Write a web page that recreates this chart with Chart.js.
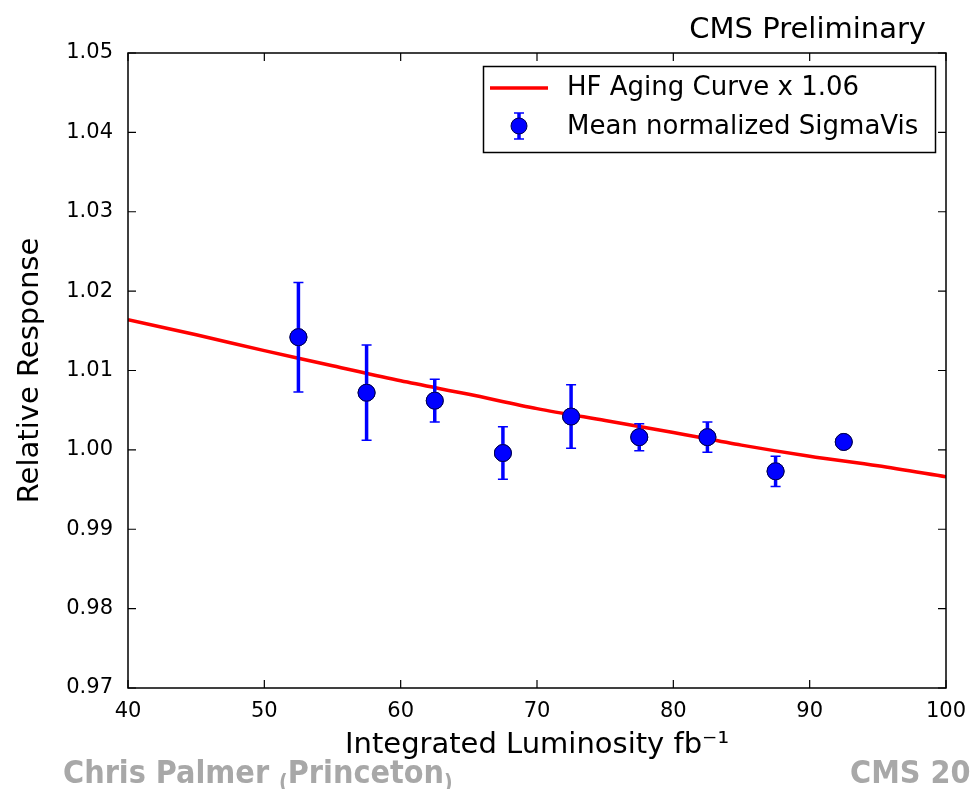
<!DOCTYPE html>
<html>
<head>
<meta charset="utf-8">
<script src="https://cdn.jsdelivr.net/npm/chart.js@4.4.1/dist/chart.umd.min.js"></script>
<style>
    html, body { margin: 0; padding: 0; background: #fff; }
    #wrap { width: 972px; height: 789px; position: relative; }
</style>
</head>
<body>
<div id="wrap"><canvas id="agingChart" width="972" height="789"></canvas></div>
<script>
// Datos
const lumiPoints = [52.5, 57.5, 62.5, 67.5, 72.5, 77.5, 82.5, 87.5, 92.5];
const responsePoints = [1.0142, 1.0072, 1.0062, 0.9996, 1.0042, 1.0016, 1.0016, 0.9973, 1.0010];
const responseErrors = [0.0069, 0.0060, 0.0027, 0.0033, 0.0040, 0.0017, 0.0019, 0.0019, 0.0004];

const curveLumi = [40, 45, 50, 55, 60, 65, 70, 75, 80, 85, 90, 95, 100];
const curveResponse = [1.0164, 1.0145, 1.0125, 1.0106, 1.0087, 1.0070, 1.0052, 1.0037, 1.0022, 1.0006, 0.9992, 0.9980, 0.9966];

const xTicks = [40, 50, 60, 70, 80, 90, 100];
const yTicks = [0.97, 0.98, 0.99, 1.00, 1.01, 1.02, 1.03, 1.04, 1.05];

const seriesLabels = ['HF Aging Curve x 1.06', 'Mean normalized SigmaVis'];

const colors = {
    curve: '#ff0000',
    points: '#0000ff',
    axis: '#000000',
    footer: '#a8a8a8'
};

const tickFont = "'DejaVu Sans', sans-serif";
const titleFont = "'DejaVu Sans', sans-serif";
const footerFont = "'DejaVu Sans Condensed', 'DejaVu Sans', sans-serif";

// Barras de error, marco y ticks hacia dentro (estilo matplotlib)
const matplotlibStyle = {
    id: 'matplotlibStyle',
    afterDatasetsDraw(chart) {
        const ctx = chart.ctx;
        const xs = chart.scales.x;
        const ys = chart.scales.y;
        const meta = chart.getDatasetMeta(1);
        ctx.save();
        ctx.strokeStyle = colors.points;
        responsePoints.forEach((v, i) => {
            const px = xs.getPixelForValue(lumiPoints[i]);
            const top = ys.getPixelForValue(v + responseErrors[i]);
            const bot = ys.getPixelForValue(v - responseErrors[i]);
            ctx.lineWidth = 3.5;
            ctx.beginPath();
            ctx.moveTo(px, top);
            ctx.lineTo(px, bot);
            ctx.stroke();
            ctx.lineWidth = 1.5;
            ctx.beginPath();
            ctx.moveTo(px - 5, top);
            ctx.lineTo(px + 5, top);
            ctx.moveTo(px - 5, bot);
            ctx.lineTo(px + 5, bot);
            ctx.stroke();
        });
        ctx.restore();
        // redibujar los puntos encima de las barras
        meta.data.forEach(el => el.draw(ctx, chart.chartArea));
    },
    afterDraw(chart) {
        const ctx = chart.ctx;
        const area = chart.chartArea;
        const xs = chart.scales.x;
        const ys = chart.scales.y;
        ctx.save();

        // marco
        ctx.strokeStyle = colors.axis;
        ctx.lineWidth = 1.5;
        ctx.strokeRect(area.left, area.top, area.right - area.left, area.bottom - area.top);

        // ticks hacia dentro en los cuatro lados
        const len = 8;
        ctx.lineWidth = 1.2;
        ctx.beginPath();
        xTicks.forEach(t => {
            const px = xs.getPixelForValue(t);
            ctx.moveTo(px, area.bottom);
            ctx.lineTo(px, area.bottom - len);
            ctx.moveTo(px, area.top);
            ctx.lineTo(px, area.top + len);
        });
        yTicks.forEach(t => {
            const py = ys.getPixelForValue(t);
            ctx.moveTo(area.left, py);
            ctx.lineTo(area.left + len, py);
            ctx.moveTo(area.right, py);
            ctx.lineTo(area.right - len, py);
        });
        ctx.stroke();

        // leyenda
        const lx = 483, ly = 66, lw = 452, lh = 86;
        ctx.fillStyle = '#fff';
        ctx.fillRect(lx, ly, lw, lh);
        ctx.strokeStyle = '#000';
        ctx.lineWidth = 1.5;
        ctx.strokeRect(lx + 0.5, ly + 0.5, lw, lh);

        ctx.strokeStyle = colors.curve;
        ctx.lineWidth = 3.5;
        ctx.beginPath();
        ctx.moveTo(490, 88);
        ctx.lineTo(548, 88);
        ctx.stroke();

        ctx.strokeStyle = colors.points;
        ctx.lineWidth = 3.5;
        ctx.beginPath();
        ctx.moveTo(519, 113);
        ctx.lineTo(519, 139);
        ctx.stroke();
        ctx.lineWidth = 1.5;
        ctx.beginPath();
        ctx.moveTo(514, 113); ctx.lineTo(524, 113);
        ctx.moveTo(514, 139); ctx.lineTo(524, 139);
        ctx.stroke();
        ctx.fillStyle = colors.points;
        ctx.strokeStyle = '#000050';
        ctx.lineWidth = 1;
        ctx.beginPath();
        ctx.arc(519, 126, 8, 0, Math.PI * 2);
        ctx.fill();
        ctx.stroke();

        ctx.fillStyle = '#000';
        ctx.font = "26px " + tickFont;
        ctx.textBaseline = 'middle';
        ctx.textAlign = 'left';
        ctx.fillText(seriesLabels[0], 567, 88);
        ctx.fillText(seriesLabels[1], 567, 127);

        // texto superior
        ctx.font = "29px " + titleFont;
        ctx.textAlign = 'right';
        ctx.textBaseline = 'alphabetic';
        ctx.fillText('CMS Preliminary', 926, 38);

        // pie de página
        ctx.fillStyle = colors.footer;
        ctx.textAlign = 'left';
        ctx.font = "bold 32px " + footerFont;
        let x = 63;
        const base = 783;
        ctx.fillText('Chris Palmer ', x, base);
        x += ctx.measureText('Chris Palmer ').width;
        ctx.font = "bold 21px " + footerFont;
        ctx.fillText('(', x, base + 6);
        x += ctx.measureText('(').width;
        ctx.font = "bold 32px " + footerFont;
        ctx.fillText('Princeton', x, base);
        x += ctx.measureText('Princeton').width;
        ctx.font = "bold 21px " + footerFont;
        ctx.fillText(')', x, base + 6);
        ctx.font = "bold 32px " + footerFont;
        ctx.fillText('CMS 2016', 850, base);

        ctx.restore();
    }
};

function generateAgingChart() {
    const canvas = document.getElementById('agingChart');
    const ctx = canvas.getContext('2d');

    return new Chart(ctx, {
        type: 'scatter',
        data: {
            datasets: [{
                type: 'line',
                label: seriesLabels[0],
                data: curveLumi.map((x, i) => ({ x: x, y: curveResponse[i] })),
                borderColor: colors.curve,
                borderWidth: 3.5,
                pointRadius: 0,
                fill: false,
                tension: 0.3
            }, {
                label: seriesLabels[1],
                data: lumiPoints.map((x, i) => ({ x: x, y: responsePoints[i] })),
                backgroundColor: colors.points,
                borderColor: '#000050',
                borderWidth: 1,
                pointRadius: 8.5
            }]
        },
        options: {
            responsive: false,
            animation: false,
            events: [],
            layout: {
                padding: { top: 53, right: 26, left: 0, bottom: 0 }
            },
            plugins: {
                legend: { display: false },
                tooltip: { enabled: false }
            },
            scales: {
                x: {
                    type: 'linear',
                    min: 40,
                    max: 100,
                    afterFit: function(scale) {
                        scale.height = 101;
                        scale.paddingLeft = 0;
                        scale.paddingRight = 0;
                    },
                    afterBuildTicks: function(scale) { scale.ticks = xTicks.map(v => ({ value: v })); },
                    grid: { display: false, drawTicks: false },
                    border: { display: false },
                    ticks: {
                        color: '#000',
                        padding: 11,
                        maxRotation: 0,
                        font: { family: tickFont, size: 21 },
                        callback: function(value) { return String(value); }
                    },
                    title: {
                        display: true,
                        text: 'Integrated Luminosity fb\u207B\u00B9',
                        color: '#000',
                        font: { family: titleFont, size: 29 },
                        padding: { top: 0, bottom: 26 }
                    }
                },
                y: {
                    type: 'linear',
                    min: 0.97,
                    max: 1.05,
                    afterFit: function(scale) {
                        scale.width = 128;
                        scale.paddingTop = 0;
                        scale.paddingBottom = 0;
                    },
                    afterBuildTicks: function(scale) { scale.ticks = yTicks.map(v => ({ value: v })); },
                    grid: { display: false, drawTicks: false },
                    border: { display: false },
                    ticks: {
                        color: '#000',
                        padding: 15,
                        font: { family: tickFont, size: 21 },
                        callback: function(value) { return value.toFixed(2); }
                    },
                    title: {
                        display: true,
                        text: 'Relative Response',
                        color: '#000',
                        font: { family: titleFont, size: 29 },
                        padding: { top: 13, bottom: 0 }
                    }
                }
            }
        },
        plugins: [matplotlibStyle]
    });
}

generateAgingChart();
</script>
</body>
</html>
